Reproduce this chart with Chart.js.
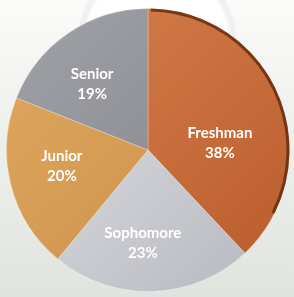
<!DOCTYPE html>
<html>
<head>
<meta charset="utf-8">
<script src="https://cdn.jsdelivr.net/npm/chart.js@4"></script>
<style>
  html, body { margin: 0; padding: 0; }
  body { width: 294px; height: 297px; overflow: hidden;
         background: linear-gradient(to bottom, #fbfbfa 0%, #eef0ec 45%, #e1e4de 100%); }
  canvas { display: block; }
</style>
</head>
<body>
<canvas id="pie" width="294" height="297"></canvas>
<script>
// Class breakdown pie
const classes = ['Freshman', 'Sophomore', 'Junior', 'Senior'];
const shares = [38, 23, 20, 19];
// light / dark stop for each slice gradient
const lightColors = ['#d7834d', '#e6e7ea', '#e0a95f', '#a2a3a8'];
const darkColors = ['#b95a2c', '#b4b6bd', '#c88c48', '#7e7f84'];

function sliceFill(ctx) {
  const chart = ctx.chart;
  const area = chart.chartArea;
  if (!area) return darkColors[ctx.dataIndex];
  const i = ctx.dataIndex;
  const g = chart.ctx.createLinearGradient(area.left, area.top, area.right, area.bottom);
  g.addColorStop(0, lightColors[i]);
  g.addColorStop(1, darkColors[i]);
  return g;
}

// white halo behind the top of the pie
const halo = {
  id: 'halo',
  beforeDatasetsDraw(chart) {
    const c = chart.ctx;
    c.save();
    const g = c.createRadialGradient(157, 40, 20, 157, 40, 80);
    g.addColorStop(0, 'rgba(255,255,255,1)');
    g.addColorStop(0.85, 'rgba(255,255,255,0.9)');
    g.addColorStop(1, 'rgba(200,200,200,0)');
    c.fillStyle = g;
    c.beginPath();
    c.arc(157, 40, 80, 0, Math.PI * 2);
    c.fill();
    c.restore();
  }
};

// dark rim + labels inside slices
// where along each slice (angle fraction, radius fraction) the label sits
const labelSpot = [[0.62, 0.51], [0.56, 0.66], [0.55, 0.62], [0.41, 0.61]];

const sliceLabels = {
  id: 'sliceLabels',
  afterDatasetsDraw(chart) {
    const c = chart.ctx;
    const meta = chart.getDatasetMeta(0);
    c.save();
    // rim on the freshman slice
    const a0 = meta.data[0];
    c.strokeStyle = 'rgba(95,40,12,0.8)';
    c.lineWidth = 3;
    c.beginPath();
    c.arc(a0.x, a0.y, a0.outerRadius - 1.5, a0.startAngle + 0.02, a0.endAngle - 0.35);
    c.stroke();

    c.fillStyle = '#ffffff';
    c.font = 'bold 15px Lato, "Open Sans", sans-serif';
    c.textAlign = 'center';
    c.textBaseline = 'middle';
    meta.data.forEach((arc, i) => {
      const [t, rf] = labelSpot[i];
      const ang = arc.startAngle + (arc.endAngle - arc.startAngle) * t;
      const r = arc.outerRadius * rf;
      const x = arc.x + Math.cos(ang) * r;
      const y = arc.y + Math.sin(ang) * r;
      c.fillText(classes[i], x, y - 10);
      c.fillText(shares[i] + '%', x, y + 10);
    });
    c.restore();
  }
};

new Chart(document.getElementById('pie'), {
  type: 'pie',
  data: {
    labels: classes,
    datasets: [{
      data: shares,
      backgroundColor: sliceFill,
      borderColor: 'rgba(255,255,255,0.25)',
      borderWidth: 1
    }]
  },
  options: {
    responsive: false,
    animation: false,
    layout: { padding: { top: 6, bottom: 3, left: 6, right: 4 } },
    plugins: { legend: { display: false }, tooltip: { enabled: false } }
  },
  plugins: [halo, sliceLabels]
});
</script>
</body>
</html>
